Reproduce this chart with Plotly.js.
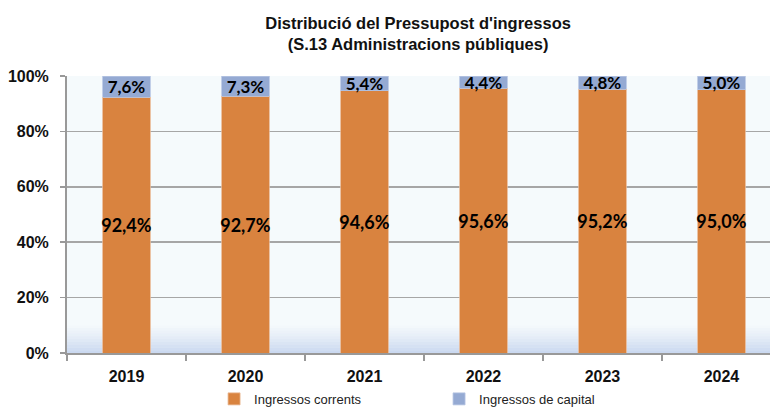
<!DOCTYPE html>
<html><head><meta charset="utf-8">
<script src="https://cdn.plot.ly/plotly-3.0.1.min.js"></script>
<style>html,body{margin:0;padding:0;background:#fff}#chart{width:770px;height:410px}</style>
</head><body><div id="chart"></div>
<script>
const years = ['2019','2020','2021','2022','2023','2024'];
const corrents = [92.4, 92.7, 94.6, 95.6, 95.2, 95.0];
const capital = [7.6, 7.3, 5.4, 4.4, 4.8, 5.0];
const yTicks = [0, 20, 40, 60, 80, 100];
const yTickLabels = ['0%', '20%', '40%', '60%', '80%', '100%'];
const seriesNames = ['Ingressos corrents', 'Ingressos de capital'];

const fmt = v => v.toFixed(1).replace('.', ',') + '%';
const labelFont = {family: 'Lato, "Open Sans", sans-serif', size: 18, color: '#000', weight: 700};

const traces = [
  {type: 'bar', x: years, y: corrents, name: seriesNames[0],
   marker: {color: '#D9833F', line: {color: '#E9B58F', width: 0.8}},
   text: corrents.map(fmt), textposition: 'inside', insidetextanchor: 'middle',
   textangle: 0, constraintext: 'none', cliponaxis: false,
   insidetextfont: labelFont, hoverinfo: 'skip'},
  {type: 'bar', x: years, y: capital, name: seriesNames[1],
   marker: {color: '#95AAD3', line: {color: '#B5C4E2', width: 0.8}},
   text: capital.map(fmt), textposition: 'inside', insidetextanchor: 'middle',
   textangle: 0, constraintext: 'none', cliponaxis: false,
   insidetextfont: Object.assign({}, labelFont, {size: 17}), hoverinfo: 'skip'}
];

// bottom gradient of plot background
const shapes = [];
const bands = 10;
for (let i = 0; i < bands; i++) {
  shapes.push({type: 'rect', layer: 'below', xref: 'paper', yref: 'y',
    x0: 0, x1: 1, y0: i, y1: i + 1, line: {width: 0},
    fillcolor: 'rgba(185,202,235,' + (0.7 * Math.pow(1 - i / bands, 1.3)).toFixed(3) + ')'});
}

const layout = {
  width: 770, height: 410,
  margin: {l: 67, r: 0, t: 76, b: 57, autoexpand: false},
  paper_bgcolor: '#ffffff', plot_bgcolor: '#F5FAFC',
  barmode: 'stack', bargap: 0.6,
  showlegend: true,
  title: {text: "Distribució del Pressupost d'ingressos<br>(S.13 Administracions públiques)",
    font: {family: '"Liberation Sans Narrow", "Liberation Sans", Arial, sans-serif', size: 16.5, color: '#111', weight: 700},
    xref: 'container', yref: 'container',
    x: 0.543, xanchor: 'center', y: 0.93, yanchor: 'middle'},
  xaxis: {type: 'category', range: [-0.5, 5.408], tickson: 'boundaries', ticks: 'outside',
    ticklen: 6, tickcolor: '#999', tickwidth: 1.5, showgrid: false,
    showline: true, linecolor: '#999', linewidth: 2, automargin: false,
    tickfont: {family: '"Liberation Sans", Arial, sans-serif', size: 16, color: '#111', weight: 700},
    ticklabelstandoff: 8, fixedrange: true},
  yaxis: {range: [0, 100], tickvals: yTicks, ticktext: yTickLabels, ticks: 'outside',
    ticklen: 5, tickcolor: '#999', tickwidth: 1.5, automargin: false,
    showgrid: true, gridcolor: '#A6A6A6', gridwidth: 1.5,
    showline: true, linecolor: '#999', linewidth: 2, zeroline: false,
    tickfont: {family: '"Liberation Sans", Arial, sans-serif', size: 16, color: '#111', weight: 700},
    ticklabelstandoff: 8, fixedrange: true},
  legend: {orientation: 'h', xref: 'container', yref: 'container',
    x: 0.278, xanchor: 'left', y: 0.027, yanchor: 'middle',
    font: {family: '"Liberation Sans", Arial, sans-serif', size: 13, color: '#222'},
    itemwidth: 30, entrywidth: 180, traceorder: 'normal', bgcolor: 'rgba(0,0,0,0)'},
  shapes: shapes
};

Plotly.newPlot('chart', traces, layout, {displayModeBar: false, staticPlot: true});
</script></body></html>
